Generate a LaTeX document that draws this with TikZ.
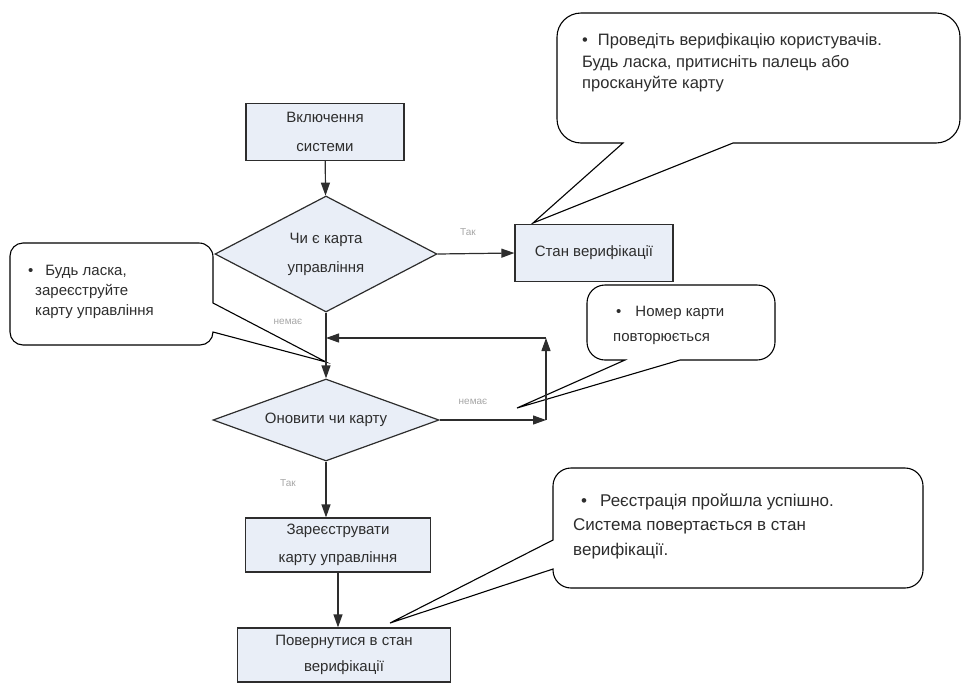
\documentclass[tikz,border=0pt]{standalone}
\usepackage{fontspec}
\setmainfont{Liberation Sans}
\usetikzlibrary{shapes,arrows.meta,positioning,calc}

\definecolor{boxfill}{RGB}{233,238,247}
\definecolor{ink}{RGB}{45,45,45}

\tikzset{
    box/.style={draw=ink, fill=boxfill, line width=1.2pt, minimum width=158pt, minimum height=57pt,
        inner sep=0pt, align=center, text=ink, font=\fontsize{15}{29}\selectfont},
    choice/.style={diamond, draw=ink, fill=boxfill, line width=1.2pt, aspect=2, inner sep=0pt,
        align=center, text=ink, font=\fontsize{15}{29}\selectfont},
    flow/.style={draw=ink, line width=1.2pt, -{Triangle[length=13pt,width=9pt]}},
    tag/.style={text=gray!70, font=\fontsize{10}{12}\selectfont},
    bubble/.style={draw=black, fill=white, line width=1.1pt},
    note/.style={anchor=west, align=left, inner sep=0pt, text=ink}
}

\begin{document}
\begin{tikzpicture}[x=1pt, y=-1pt]
    \useasboundingbox (0,0) rectangle (968,683);

    % Callout bodies
    \draw[bubble, rounded corners=24pt] (557,13) -- (960,13) -- (960,143)
        [sharp corners] -- (733,143) -- (533,223) -- (623,143) [rounded corners=24pt] -- (557,143) -- cycle;
    \draw[bubble, rounded corners=14pt] (10,243) -- (213,243)
        [sharp corners] -- (213,303) -- (326,362) -- (213,332) [rounded corners=13pt] -- (213,345) -- (10,345) -- cycle;
    \draw[bubble, rounded corners=18pt] (587,285) -- (775,285) -- (775,360)
        [sharp corners] -- (680,360) -- (517,408) -- (625,360) [rounded corners=18pt] -- (587,360) -- cycle;
    \draw[bubble, rounded corners=18pt] (553,468) -- (923,468) -- (923,588) -- (553,588)
        [sharp corners] -- (553,569) -- (390,623) -- (553,540) [rounded corners=18pt] -- cycle;

    % Boxes and decisions
    \node[box] (on) at (325,132) {Включення\\системи};
    \node[choice, minimum width=222pt, minimum height=116pt] (d1) at (326,254) {Чи є карта\\управління};
    \node[box] (ver) at (594,253) {Стан верифікації};
    \node[choice, minimum width=226pt, minimum height=82pt] (d2) at (326,420) {Оновити чи карту};
    \node[box, minimum width=185pt, minimum height=54pt, font=\fontsize{15}{28}\selectfont] (reg) at (338,545) {Зареєструвати\\карту управління};
    \node[box, minimum width=213pt, minimum height=54pt, font=\fontsize{15}{26}\selectfont] (ret) at (344,655) {Повернутися в стан\\верифікації};

    % Callout texts
    \node[note, font=\fontsize{16.5}{21.5}\selectfont] (n1) at (582,63) {•\hspace{10pt}Проведіть верифікацію користувачів.\\Будь ласка, притисніть палець або\\проскануйте карту};
    \node[note, font=\fontsize{15}{20}\selectfont] (n2) at (28,292) {•\hspace{12pt}Будь ласка,\\\hspace*{7pt}зареєструйте\\\hspace*{7pt}карту управління};
    \node[note, font=\fontsize{15}{25}\selectfont] (n3) at (613,325) {\hspace*{3pt}•\hspace{14pt}Номер карти\\повторюється};
    \node[note, font=\fontsize{17}{24.5}\selectfont] (n4) at (573,526) {\hspace*{8pt}•\hspace{13pt}Реєстрація пройшла успішно.\\Система повертається в стан\\верифікації.};

    % Labels
    \node[tag] (yes1) at (468,232) {Так};
    \node[tag] (no1) at (288,322) {немає};
    \node[tag] (no2) at (473,402) {немає};
    \node[tag] (yes2) at (288,483) {Так};

    % Loop corners
    \coordinate (lp1) at (546,420);
    \coordinate (lp2) at (546,338);
    \coordinate (lp3) at (d1.south |- lp2);

    % Arrows
    \draw[flow] (on) -- (d1);
    \draw[flow] (d1.east) -- (ver.west);
    \draw[flow] (d1) -- (d2);
    \draw[flow] (d2.east) -- (lp1);
    \draw[flow] (lp1) -- (lp2);
    \draw[flow] (lp2) -- (lp3);
    \draw[flow] (d2.south) -- (d2.south |- reg.north);
    \draw[flow] (reg.south) -- (reg.south |- ret.north);
\end{tikzpicture}
\end{document}
